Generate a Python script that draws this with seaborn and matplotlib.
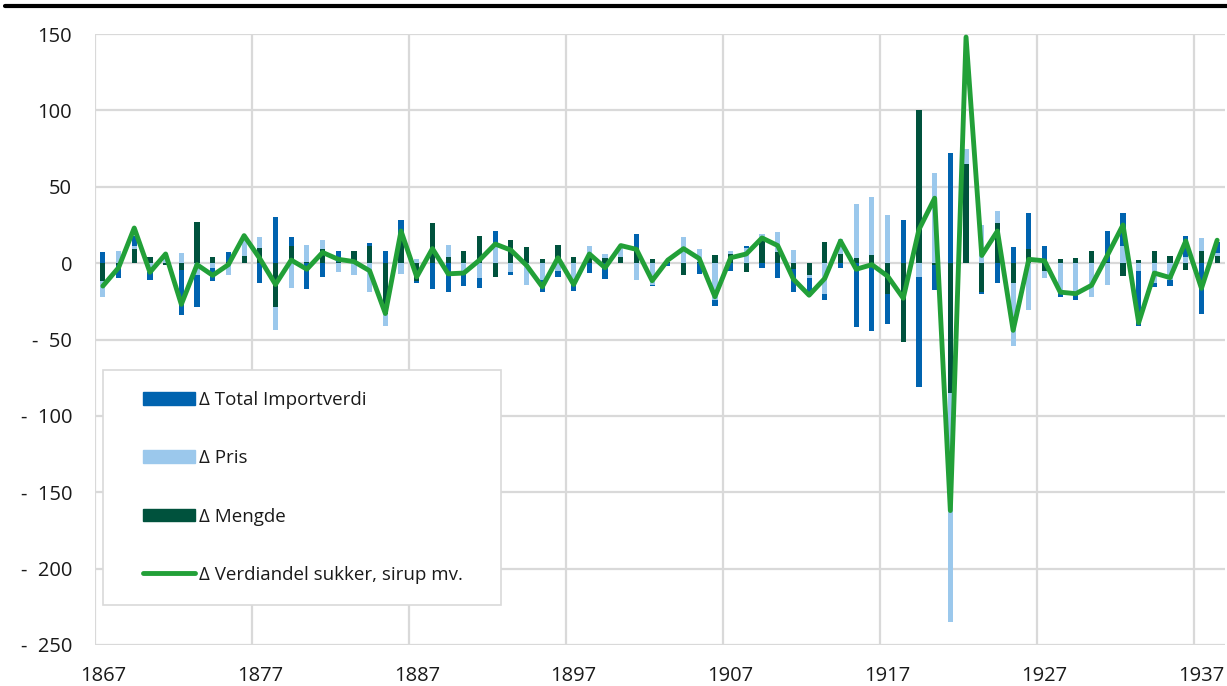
import numpy as np
import pandas as pd
import matplotlib
matplotlib.use("Agg")
import matplotlib.pyplot as plt
import seaborn as sns
from matplotlib.lines import Line2D
from matplotlib.patches import Patch, Rectangle

years = list(range(1867, 1939))

total = [7.5, -10, 18, -11, 5, -34, -29, -12, 7, 10,
         -13, 30, 17, -17, -9, 8, -1, 13.5, 8, 28,
         -13, -17, -19, -15, -16, 21, -7.5, -12, -19, -9,
         -18, -6.5, -10.5, 3, 19, -15, -2, 8, -7, -28,
         -5, 11.5, -3, -9.5, -19, -19, -24, -3, -42, -44.5,
         -40, 28, -81, -17.5, 72, 60, -20, -13, 10.7, 33,
         11, -22, -24, 7, 21, 33, -41, -15.5, -15, 18,
         -33, 14]
pris = [-22, 8, 11, -6, 6, 6.5, -8, -3, -7.5, 17,
        17, -44, -16, 12, 15, -6, -7.5, -19, -41, -7,
        3, 3, 12, -6, -10, 13, -5.5, -14, -11, -5,
        -13, 11.5, 6, 10, -11, -14, 1, 17, 9, -24,
        8, 10, 19, 20.5, 8.5, -10, -20, 16, 38.5, 43,
        31.5, -20, -9, 59, -235, 75, 25, 34, -54, -31,
        -10, -18, -21, -22.5, -14, 11, -5, -13, -11, 4,
        16.5, 6.5]
mengde = [-12, -1, 9, 4, -1, -4.5, 27, 4, 1, 4.5,
          10, -29, 11, 1, 9, 1, 8, 11, -33, 18,
          -12, 26, 4, 8, 18, -9, 15, 10.5, 2.5, 12,
          4, 4, 3.5, 4, 10, 3, 1, -8, 0.5, 5,
          6, -6, 15, 7, -4, -8, 14, 6, 3.5, 5,
          -20, -51.5, 100.5, -1, -85, 65, -19, 26, -13, 9.5,
          -5, 2.4, 3.5, 8, 1, -8.5, 2, 8, 4.5, -4.5,
          8, 4.5]
verdiandel = [-15, -3, 23, -6, 6, -27, -1, -8, -1, 18,
              3, -14, 2, -4, 7, 2.5, 1, -5, -33, 21,
              -9, 9.5, -7, -6.5, 2, 12.5, 8.5, -1.5, -15.5, 3.5,
              -14, 6, -3, 11.5, 9, -11.5, 2, 9.5, 3, -22,
              3.5, 6, 16.5, 11.5, -10.5, -21, -10, 14.5, -4, -1,
              -8.5, -23, 22, 42.5, -162, 148, 5, 21, -44, 2.5,
              1.5, -19, -20, -14.5, 5, 25, -39, -6.5, -9.5, 14.5,
              -16.5, 15]

labels = ["\u0394 Total Importverdi", "\u0394 Pris", "\u0394 Mengde",
          "\u0394 Verdiandel sukker, sirup mv."]
y_ticks = [150, 100, 50, 0, -50, -100, -150, -200, -250]
x_tick_years = [1867, 1877, 1887, 1897, 1907, 1917, 1927, 1937]

c_total = "#0063AF"
c_pris = "#9BC8EC"
c_mengde = "#00523D"
c_line = "#22A038"
c_grid = "#D9D9D9"
c_text = "#1A1A1A"

sns.set_theme(style="white")
plt.rcParams["font.family"] = ["Open Sans", "DejaVu Sans"]

W, H = 1227, 686
fig = plt.figure(figsize=(W / 100, H / 100), dpi=100)
ax = fig.add_axes([95 / W, 1 - 645 / H, (1225 - 95) / W, (645 - 34) / H])

idx = np.arange(len(years))
df = pd.DataFrame({"idx": idx, "year": years, "total": total, "pris": pris,
                   "mengde": mengde, "line": verdiandel})

for col, c in [("total", c_total), ("pris", c_pris), ("mengde", c_mengde)]:
    sns.barplot(data=df, x="idx", y=col, native_scale=True, width=0.33,
                color=c, saturation=1, errorbar=None, linewidth=0, ax=ax, zorder=2)

sns.lineplot(data=df, x="idx", y="line", color=c_line, linewidth=3.5, ax=ax,
             zorder=4)
for l in ax.lines:
    l.set_solid_joinstyle("round")
    l.set_solid_capstyle("round")

ax.set_xlim(-0.5, len(years) - 0.5)
ax.set_ylim(-250, 150)

# grid
for yv in y_ticks:
    ax.axhline(yv, color=c_grid, lw=1.6, zorder=1)
for k in range(0, len(years), 10):
    ax.axvline(k - 0.5, color=c_grid, lw=1.6, zorder=1)
for s in ax.spines.values():
    s.set_visible(False)

ax.set_yticks(y_ticks)
ax.set_yticklabels([str(v) if v >= 0 else f"-  {abs(v)}" for v in y_ticks],
                   fontsize=14.5, color=c_text)
ax.set_xticks([years.index(y) for y in x_tick_years])
ax.set_xticklabels([str(y) for y in x_tick_years], fontsize=14.5, color=c_text)
ax.tick_params(axis="y", length=0, pad=16.5)
ax.tick_params(axis="x", length=0, pad=15)
ax.set_xlabel("")
ax.set_ylabel("")

# legend box
box = Rectangle((103 / W, 1 - 605 / H), 398 / W, 235 / H,
                transform=fig.transFigure, facecolor="white",
                edgecolor=c_grid, lw=1.2, zorder=5, clip_on=False)
ax.add_patch(box)

handles = [Patch(color=c_total), Patch(color=c_pris), Patch(color=c_mengde),
           Line2D([0], [0], color=c_line, lw=3.5, solid_capstyle="round")]
leg = ax.legend(handles, labels, loc="upper left",
                bbox_to_anchor=(143 / W, 1 - 391 / H), bbox_transform=fig.transFigure,
                frameon=False, fontsize=13.5, handlelength=2.75, handleheight=0.66,
                handletextpad=0.22, labelspacing=2.15, borderpad=0, borderaxespad=0)
for t in leg.get_texts():
    t.set_color(c_text)
leg.set_zorder(7)

# top rule
fig.add_artist(Line2D([5 / W, 1], [1 - 6 / H, 1 - 6 / H], color="black", lw=3,
                      transform=fig.transFigure))

fig.savefig("out.png", dpi=100)
